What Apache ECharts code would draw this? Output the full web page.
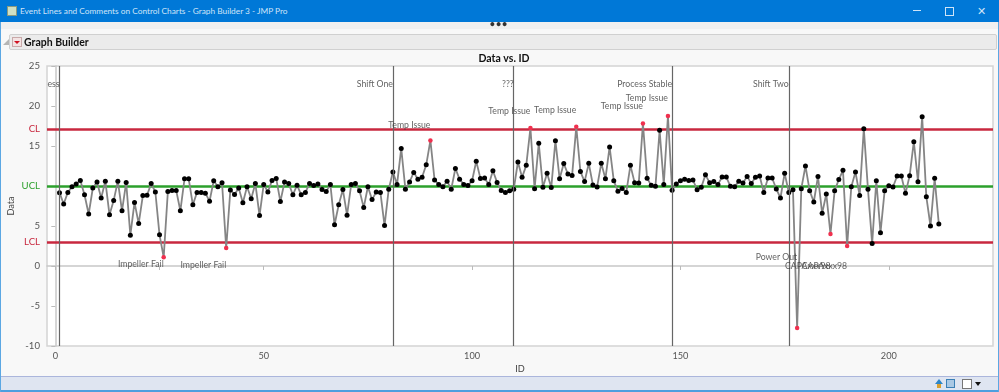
<!DOCTYPE html>
<html><head><meta charset="utf-8">
<style>
html,body{margin:0;padding:0;width:999px;height:392px;overflow:hidden;background:#f8f8f8;font-family:Lato,"Noto Sans",sans-serif}
.a{position:absolute;box-sizing:border-box}
</style>
<script src="https://cdn.jsdelivr.net/npm/echarts@6/dist/echarts.min.js"></script>
</head><body>
<div class="a" style="left:0;top:22px;width:999px;height:7px;background:#f0f0f0"></div>
<div class="a" style="left:0;top:29px;width:999px;height:347px;background:#f8f8f8"></div>
<div class="a" style="left:9px;top:34px;width:988px;height:16px;background:#ebebeb;border:1px solid #d0d0d0;border-radius:2px"></div>
<div id="c" class="a" style="left:0;top:0;width:999px;height:392px"></div>
<div class="a" style="left:0;top:0;width:999px;height:22px;background:#0078d7"></div>
<div class="a" style="left:7px;top:6px;width:10px;height:10px;background:#cfe0c4;border:1px solid #8a9a80"></div>
<div class="a" style="left:20px;top:2px;height:18px;line-height:18px;color:#cfe4f7;font-size:8.3px;white-space:nowrap;">Event Lines and Comments on Control Charts - Graph Builder 3 - JMP Pro</div>
<div class="a" style="left:913px;top:10px;width:8px;height:1px;background:#cfe4f7"></div>
<div class="a" style="left:945px;top:7px;width:9px;height:9px;border:1px solid #cfe4f7"></div>
<div class="a" style="left:974px;top:3px;width:14px;height:16px;line-height:15px;text-align:center;color:#cfe4f7;font-size:11px">✕</div>
<div class="a" style="left:478px;top:18px;width:42px;height:12px;line-height:12px;text-align:center;color:#333;font-size:9px;font-weight:bold;letter-spacing:1px">•••</div>
<div class="a" style="left:3px;top:39px;width:0;height:0;border-left:6px solid transparent;border-bottom:6px solid #b5b5b5"></div>
<div class="a" style="left:12px;top:37px;width:10px;height:10px;background:#f3e3e3;border:1px solid #c9a9a9"></div>
<div class="a" style="left:14px;top:41px;width:0;height:0;border-left:3px solid transparent;border-right:3px solid transparent;border-top:3px solid #d01020"></div>
<div class="a" style="left:24px;top:33px;height:18px;line-height:18px;font-size:10.5px;font-weight:bold;color:#111">Graph Builder</div>
<div class="a" style="left:0;top:376px;width:999px;height:16px;background:#dfe5f1;border-top:1px solid #abb6dc;border-bottom:2px solid #4d9fdf"></div>
<div class="a" style="left:0;top:22px;width:1px;height:370px;background:#5ba7e3"></div>
<div class="a" style="left:998px;top:22px;width:1px;height:370px;background:#5ba7e3"></div>
<div class="a" style="left:935px;top:379px;width:0;height:0;border-left:4px solid transparent;border-right:4px solid transparent;border-bottom:5px solid #2f86c8"></div>
<div class="a" style="left:937px;top:384px;width:4px;height:4px;background:#d8a030"></div>
<div class="a" style="left:946px;top:379px;width:9px;height:9px;background:#a9c8e4;border:1px solid #3a7fb5"></div>
<div class="a" style="left:962px;top:379px;width:10px;height:10px;background:#fff;border:1px solid #777"></div>
<div class="a" style="left:975px;top:382px;width:0;height:0;border-left:3.5px solid transparent;border-right:3.5px solid transparent;border-top:4px solid #111"></div>
<script>
var values = [
9.17,7.75,9.2,9.9,10.25,10.7,8.9,6.5,9.75,10.5,8.5,10.6,6.4,8.2,10.6,6.9,10.45,3.85,7.95,5.3,
8.8,8.85,10.3,9.25,3.9,1.1,9.3,9.45,9.45,6.9,10.9,10.9,7.65,9.2,9.2,9.1,8.1,10.65,9.9,10.4,
2.25,9.5,8.95,9.75,7.9,9.9,8.4,10.3,6.3,10.2,9.25,10.7,10.95,8.05,10.5,10.3,8.9,10.1,8.9,9.2,
10.3,10.05,10.25,9.55,9.3,10.2,5.15,7.65,9.55,6.35,10.2,10.3,9.4,7.3,9.9,8.3,9.25,9.2,5.05,9.6,
11.75,10.2,14.7,9.6,10.5,11.7,10.85,11.1,12.65,15.7,10.75,10.2,9.9,10.6,9.6,12.2,10.85,10.2,10.05,10.65,
13.1,10.95,11,10.2,11.9,10.45,9.45,9.2,9.4,9.6,13,11.08,12.58,17.25,9.67,15.33,9.83,11.58,9.8,15.67,
10.92,12.8,11.5,11.3,17.4,11.8,10.55,12.83,10.13,9.88,12.83,10.92,14.88,10.67,9.33,9.7,9.2,12.58,10.42,10.38,
17.8,10.96,10.08,9.96,16.96,10.2,18.75,9.46,10.25,10.67,10.83,10.7,10.75,9.54,9.83,11.4,10.42,10.55,10.2,11.12,
11.12,9.96,9.92,10.58,10.38,11.2,10.3,11.1,11.25,9.2,11,11,9.63,8.5,11.6,9.2,9.54,-7.75,9.67,12.5,
9.42,8,11.2,6.58,9,4,9.42,10.8,11.96,2.5,9.92,11.75,8.8,17.17,9.58,2.8,10.67,4.17,9.42,10.04,
9.88,11.25,11.25,9.08,11.29,15.54,10.54,18.67,8.67,5,10.96,5.25];
var flaggedIds = [26,41,90,114,125,141,147,178,186,190];
var limitNames = ["CL","UCL","LCL"];
var limitValues = [17.1,10,3];
var limitColors = ["#c8283f","#2ca02c","#c8283f"];
var eventIds = [1,81,110,148,176];
var eventTexts = ["ess","Shift One","???","Process Stable","Shift Two"];
var eventY = [22.75,22.75,22.75,22.75,22.75];
var commentIds = [26,41,90,114,125,141,147,178,186,190];
var commentTexts = ["Impeller Fail","Impeller Fail","Temp Issue","Temp Issue","Temp Issue","Temp Issue","Temp Issue","Power Out","CAPAxxx98","CAPAxxx98"];
var commentY = [0.25,0.1,17.6,19.4,19.5,20,21,1.1,0,0];
var xTicks = [0,25,50,100,150,200];
var xLabels = [0,50,100,150,200];
var yLabels = [-10,-5,0,5,15,20,25];
var font = 'Lato,"Noto Sans",sans-serif';

var points = values.map(function(v,i){
  var id = i+1, red = flaggedIds.indexOf(id) >= 0;
  return {value:[id,v], symbolSize: red ? 4.5 : 5, itemStyle:{color: red ? "#f0304e" : "#000"}};
});
var limitLines = limitValues.map(function(v,i){
  return {yAxis:v, lineStyle:{color:limitColors[i], width: 2.5, type:"solid"}};
});
var eventLines = eventIds.map(function(x){
  return {xAxis:x, lineStyle:{color:"#666", width:1.2, type:"solid"}};
});
function labelData(ids, ys, texts){
  return ids.map(function(x,i){ return {value:[x,ys[i]], label:{formatter:texts[i]}}; });
}
function textSeries(ids, ys, texts){
  return {type:"scatter", symbolSize:0, silent:true, z:6, data:labelData(ids,ys,texts),
    label:{show:true, position:"left", distance:0, color:"#3a3a3a", fontSize:8.7, fontFamily:font}};
}
var chart = echarts.init(document.getElementById("c"), null, {renderer:"canvas"});
chart.setOption({
  animation:false,
  title:{text:"Data vs. ID", left:499, top:48, textAlign:"center",
    textStyle:{fontSize:10.5,fontWeight:"bold",color:"#111",fontFamily:font}},
  grid:{left:47,top:66,width:946,height:280,show:true,outerBoundsMode:"none",containLabel:false,backgroundColor:"#fff",borderColor:"#d4d4d4",borderWidth:1.5},
  xAxis:{type:"value",min:-2,max:225,name:"ID",nameLocation:"middle",nameGap:19,nameMoveOverlap:false,
    nameTextStyle:{color:"#444",fontSize:9.2,fontFamily:font},
    splitLine:{show:false},
    axisLine:{lineStyle:{color:"#c8c8c8",width:1.5}},
    axisTick:{show:true,length:4,lineStyle:{color:"#bbb"},customValues:xTicks},
    axisLabel:{color:"#555",fontSize:9.2,fontFamily:font,margin:6,customValues:xLabels}},
  yAxis:{type:"value",min:-10,max:25,name:"Data",nameLocation:"middle",nameGap:31,nameMoveOverlap:false,
    nameTextStyle:{color:"#444",fontSize:9.2,fontFamily:font},
    splitLine:{show:false},
    axisLine:{show:true,lineStyle:{color:"#c8c8c8",width:1.5}},
    axisTick:{show:true,length:4,lineStyle:{color:"#bbb"},customValues:yLabels.concat(limitValues)},
    axisLabel:{fontSize:9.6,fontFamily:font,margin:7,
      customValues:yLabels.concat(limitValues),
      formatter:function(v){var i=limitValues.indexOf(v);return i>=0?limitNames[i]:String(v);},
      color:function(v){var i=limitValues.indexOf(Number(v));return i>=0?limitColors[i]:"#555";}}},
  series:[
    {type:"line",data:[],silent:true,z:1,
      markLine:{silent:true,symbol:"none",label:{show:false},data:eventLines,animation:false}},
    {type:"line",data:points,z:3,showSymbol:true,symbol:"circle",symbolSize:5,
      lineStyle:{color:"#858585",width:1.8},
      markLine:{silent:true,symbol:"none",label:{show:false},data:limitLines,animation:false,z:2}},
    textSeries(eventIds,eventY,eventTexts),
    textSeries(commentIds,commentY,commentTexts)
  ]
});
</script>
</body></html>
